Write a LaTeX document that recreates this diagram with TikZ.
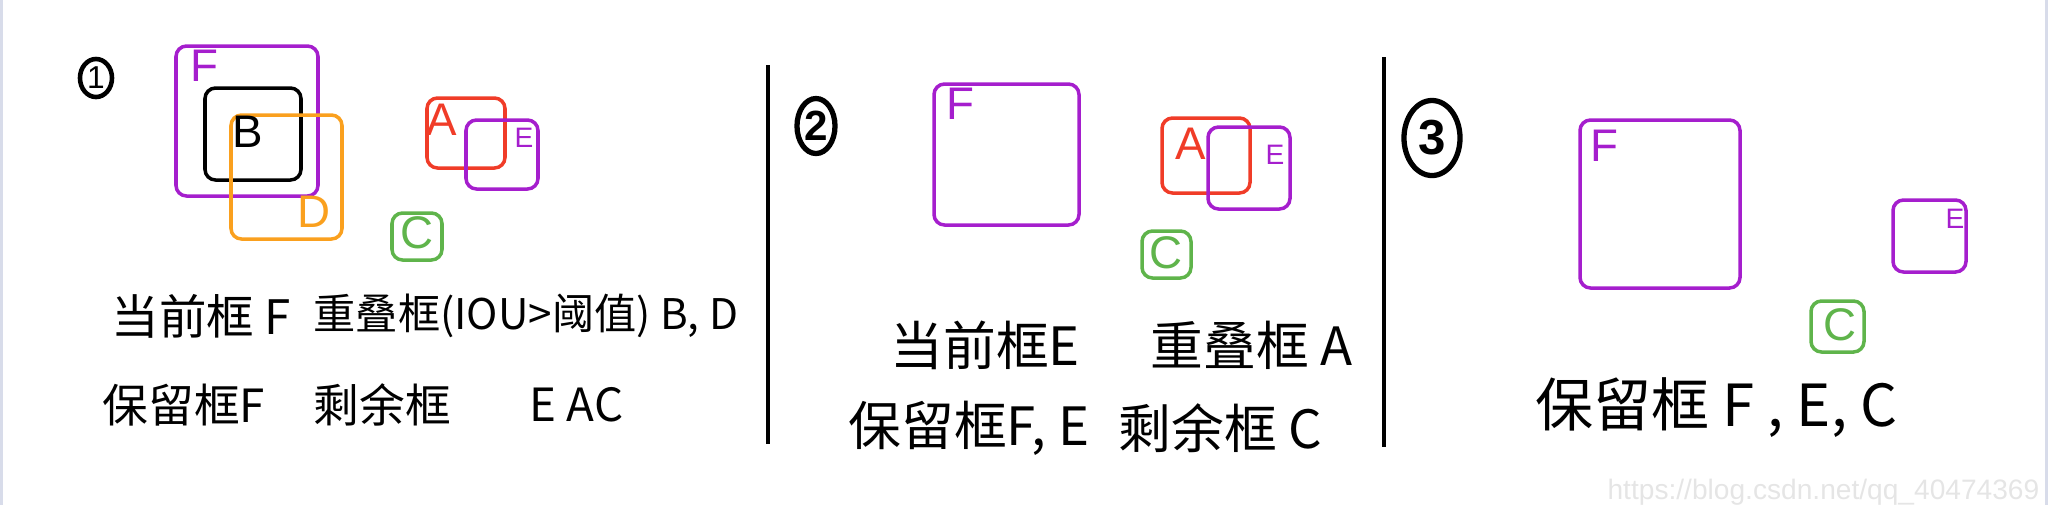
\documentclass[tikz,border=0pt]{standalone}
\usepackage{fontspec}
\setmainfont{Liberation Sans}
\newfontfamily\cjk{Noto Sans CJK SC}
\usetikzlibrary{shapes.geometric}

\definecolor{boxpurple}{RGB}{165,30,205}
\definecolor{boxorange}{RGB}{250,160,30}
\definecolor{boxred}{RGB}{240,60,40}
\definecolor{boxgreen}{RGB}{95,180,75}
\definecolor{edgegray}{RGB}{216,220,234}

\tikzset{
  bx/.style={line width=1pt, rounded corners=3pt},
  lbl/.style={inner sep=0pt, font=\fontsize{13}{13}\selectfont},
  note/.style={anchor=west, inner sep=0pt, font=\cjk\fontsize{13}{13}\selectfont},
  num/.style={draw, ellipse, line width=1.5pt, inner sep=0pt, font=\bfseries\fontsize{12}{12}\selectfont},
}

\begin{document}
\begin{tikzpicture}[x=0.01cm, y=-0.01cm]
        \useasboundingbox (0,0) rectangle (2048,505);
        \draw[edgegray, line width=1pt] (1,0) -- (1,505);
        \draw[edgegray, line width=1pt] (2047,0) -- (2047,505);

        % panel 1
        \node[num, line width=1.3pt, minimum width=0.32cm, minimum height=0.38cm, font=\fontsize{9}{9}\selectfont] (n1) at (96,78) {1};
        \draw[bx, boxpurple] (176,46) rectangle (318,196);
        \draw[bx, black] (205,88) rectangle (301,180);
        \draw[bx, boxorange] (231,115) rectangle (342,239);
        \draw[bx, boxred] (427,98) rectangle (505,168);
        \draw[bx, boxpurple] (466,120) rectangle (538,189);
        \draw[bx, boxgreen] (392,213) rectangle (442,260);
        \node[lbl, boxpurple] (fa) at (204,66) {F};
        \node[lbl, black] (ba) at (248,132) {B};
        \node[lbl, boxorange] (da) at (314,212) {D};
        \node[lbl, boxred] (aa) at (442,120) {A};
        \node[lbl, boxpurple, font=\fontsize{8}{8}\selectfont] (ea) at (524,138) {E};
        \node[lbl, boxgreen] (ca) at (417,233) {C};

        \node[note, font=\cjk\fontsize{13.5}{13.5}\selectfont] (cur1) at (111,316) {当前框 F};
        \node[note, font=\cjk\fontsize{12}{12}\selectfont] (ovl1) at (313,316) {重叠框(IOU>阈值) B, D};
        \node[note] (keep1) at (102,405) {保留框F};
        \node[note] (rest1) at (313,405) {剩余框};
        \node[note] (left1) at (529,405) {E AC};

        \draw[line width=1.2pt] (768,65) -- (768,444);

        % panel 2
        \node[num, minimum width=0.38cm, minimum height=0.55cm] (n2) at (816,126) {2};
        \draw[bx, boxpurple] (934,84) rectangle (1079,225);
        \draw[bx, boxred] (1162,118) rectangle (1250,193);
        \draw[bx, boxpurple] (1208,127) rectangle (1290,209);
        \draw[bx, boxgreen] (1142,231) rectangle (1191,278);
        \node[lbl, boxpurple] (fb) at (960,104) {F};
        \node[lbl, boxred] (ab) at (1191,144) {A};
        \node[lbl, boxpurple, font=\fontsize{8}{8}\selectfont] (eb) at (1275,155) {E};
        \node[lbl, boxgreen] (cb) at (1166,253) {C};

        \node[note, font=\cjk\fontsize{15}{15}\selectfont] (cur2) at (890,345) {当前框E};
        \node[note, font=\cjk\fontsize{15}{15}\selectfont] (ovl2) at (1150,345) {重叠框 A};
        \node[note, font=\cjk\fontsize{15}{15}\selectfont] (keep2) at (848,428) {保留框F, E};
        \node[note, font=\cjk\fontsize{15}{15}\selectfont] (rest2) at (1118,428) {剩余框 C};

        \draw[line width=1.2pt] (1384,57) -- (1384,447);

        % panel 3
        \node[num, minimum width=0.56cm, minimum height=0.75cm, font=\bfseries\fontsize{14}{14}\selectfont] (n3) at (1432,138) {3};
        \draw[bx, boxpurple] (1580,120) rectangle (1740,288);
        \draw[bx, boxpurple] (1893,200) rectangle (1966,272);
        \draw[bx, boxgreen] (1811,301) rectangle (1864,352);
        \node[lbl, boxpurple] (fc) at (1604,146) {F};
        \node[lbl, boxpurple, font=\fontsize{8}{8}\selectfont] (ec) at (1955,219) {E};
        \node[lbl, boxgreen] (cc) at (1840,325) {C};

        \node[note, font=\cjk\fontsize{16.5}{16.5}\selectfont] (keep3) at (1535,408) {保留框 F , E, C};

        \node[anchor=east, inner sep=0pt, text=gray!20, font=\fontsize{8}{8}\selectfont] (wm) at (2040,492) {https://blog.csdn.net/qq\_40474369};
    \end{tikzpicture}
\end{document}
